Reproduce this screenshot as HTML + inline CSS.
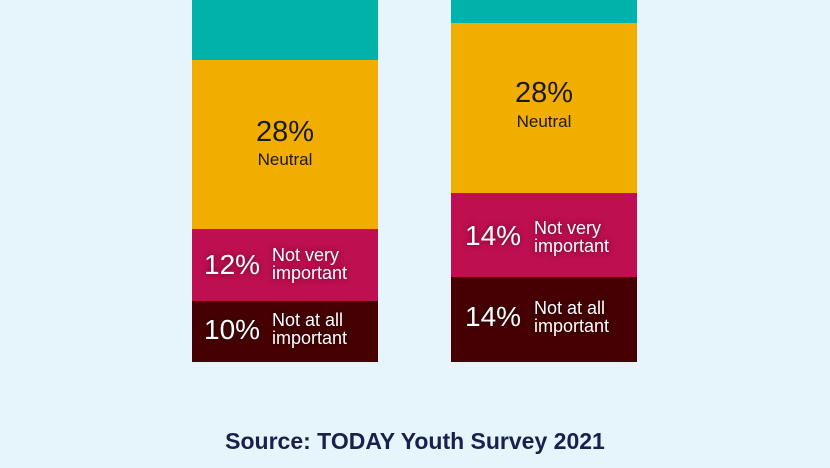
<!DOCTYPE html>
<html><head><style>
body{margin:0;width:830px;height:468px;background:#e6f4fc;position:relative;overflow:hidden;font-family:"Liberation Sans",sans-serif}
.s{position:absolute;width:186px}
.t{background:#00b2a9}.y{background:#f2ae00}.m{background:#be0f50}.d{background:#460004}
.pct{position:absolute;font-size:28px;color:#fff;text-shadow:0 0 6px rgba(0,0,0,.5)}
.lbl{position:absolute;font-size:18px;line-height:18px;color:#fff;text-shadow:0 0 6px rgba(0,0,0,.5)}
.c{position:absolute;left:0;width:186px;text-align:center;color:#1a1a1a}
</style></head><body>
<div class="s t" style="left:192px;top:0;height:60px"></div>
<div class="s y" style="left:192px;top:60px;height:169px">
 <div class="c" style="top:56px;font-size:29px">28%</div>
 <div class="c" style="top:90px;font-size:17px">Neutral</div></div>
<div class="s m" style="left:192px;top:229px;height:72px">
 <div class="pct" style="left:12px;top:20px">12%</div>
 <div class="lbl" style="left:80px;top:17px">Not very<br>important</div></div>
<div class="s d" style="left:192px;top:301px;height:61px">
 <div class="pct" style="left:12px;top:13px">10%</div>
 <div class="lbl" style="left:80px;top:10px">Not at all<br>important</div></div>

<div class="s t" style="left:451px;top:0;height:23px"></div>
<div class="s y" style="left:451px;top:23px;height:170px">
 <div class="c" style="top:54px;font-size:29px">28%</div>
 <div class="c" style="top:89px;font-size:17px">Neutral</div></div>
<div class="s m" style="left:451px;top:193px;height:84px">
 <div class="pct" style="left:14px;top:27px">14%</div>
 <div class="lbl" style="left:83px;top:26px">Not very<br>important</div></div>
<div class="s d" style="left:451px;top:277px;height:85px">
 <div class="pct" style="left:14px;top:24px">14%</div>
 <div class="lbl" style="left:83px;top:22px">Not at all<br>important</div></div>

<div style="position:absolute;left:0;width:830px;top:428px;text-align:center;font-size:23px;font-weight:bold;color:#1b1f4b">Source: TODAY Youth Survey 2021</div>
</body></html>
